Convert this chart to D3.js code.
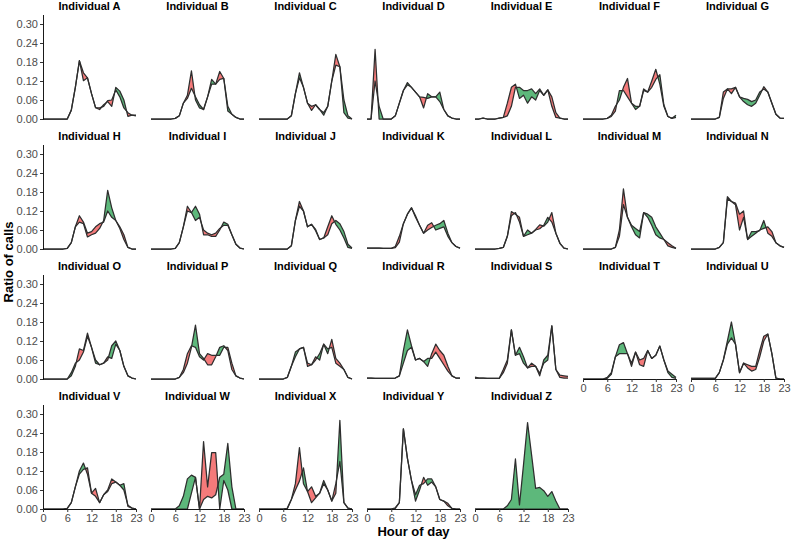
<!DOCTYPE html>
<html>
<head>
<meta charset="utf-8">
<script src="https://cdn.jsdelivr.net/npm/d3@7"></script>
<style>
body { margin: 0; background: #fff; }
text { font-family: "Liberation Sans", Arial, sans-serif; }
</style>
</head>
<body>
<svg id="chart" width="792" height="542"></svg>
<script>
var hours = [0,1,2,3,4,5,6,7,8,9,10,11,12,13,14,15,16,17,18,19,20,21,22,23];
var individuals = ["A","B","C","D","E","F","G","H","I","J","K","L","M","N","O","P","Q","R","S","T","U","V","W","X","Y","Z"];
var yTicks = [0, 0.06, 0.12, 0.18, 0.24, 0.30];
var xTicks = [0, 6, 12, 18, 23];

// first series (red where it is higher)
var seriesOne = [
  [0,0,0,0,0,0,0,0.028,0.1,0.184,0.146,0.13,0.08,0.036,0.035,0.04,0.058,0.06,0.092,0.07,0.035,0.02,0.012,0.01],
  [0,0,0,0,0,0,0.002,0.01,0.05,0.075,0.152,0.06,0.035,0.03,0.07,0.11,0.11,0.15,0.128,0.025,0.015,0.005,0,0],
  [0,0,0,0,0,0,0,0,0.01,0.08,0.13,0.1,0.05,0.04,0.045,0.03,0.012,0.04,0.12,0.204,0.165,0.02,0.003,0],
  [0,0,0.22,0,0,0,0,0.01,0.05,0.09,0.108,0.1,0.085,0.07,0.068,0.065,0.07,0.07,0.055,0.03,0.01,0.003,0,0],
  [0,0,0.003,0,0,0,0.003,0.005,0.05,0.1,0.11,0.065,0.075,0.05,0.07,0.06,0.09,0.075,0.092,0.07,0.02,0.003,0,0],
  [0,0,0,0,0,0,0.002,0.012,0.04,0.06,0.1,0.128,0.05,0.03,0.04,0.095,0.085,0.12,0.157,0.11,0.04,0.008,0.002,0.005],
  [0,0,0,0,0,0,0,0.005,0.085,0.095,0.095,0.1,0.07,0.055,0.045,0.04,0.05,0.075,0.102,0.085,0.05,0.015,0.003,0.002],
  [0,0,0,0,0,0,0.002,0.02,0.07,0.105,0.085,0.05,0.055,0.07,0.08,0.085,0.12,0.1,0.09,0.07,0.045,0.005,0,0],
  [0,0,0,0,0,0,0.002,0.02,0.07,0.135,0.115,0.09,0.1,0.06,0.05,0.045,0.05,0.065,0.075,0.075,0.045,0.015,0.003,0],
  [0,0,0,0,0,0,0,0,0.01,0.09,0.15,0.12,0.07,0.078,0.058,0.03,0.035,0.07,0.105,0.078,0.06,0.035,0.005,0.002],
  [0.003,0.003,0.003,0.003,0.002,0.002,0.002,0.008,0.04,0.08,0.11,0.13,0.105,0.075,0.05,0.075,0.083,0.06,0.065,0.07,0.04,0.02,0.008,0.003],
  [0,0,0,0,0,0,0.002,0.005,0.04,0.118,0.11,0.1,0.04,0.045,0.05,0.062,0.076,0.072,0.085,0.115,0.05,0.018,0.003,0],
  [0,0,0,0,0,0,0,0,0.005,0.06,0.19,0.1,0.07,0.045,0.035,0.115,0.1,0.075,0.045,0.035,0.03,0.02,0.01,0.002],
  [0,0,0,0,0,0,0,0.005,0.02,0.165,0.15,0.145,0.11,0.12,0.03,0.04,0.05,0.06,0.065,0.07,0.055,0.02,0.01,0.005],
  [0,0,0,0,0,0,0,0.01,0.04,0.095,0.09,0.145,0.1,0.05,0.045,0.05,0.07,0.065,0.11,0.09,0.04,0.01,0.003,0],
  [0,0,0,0,0,0,0,0.005,0.03,0.08,0.105,0.1,0.07,0.06,0.08,0.075,0.075,0.075,0.1,0.1,0.05,0.01,0.003,0],
  [0,0,0,0,0,0,0,0.005,0.04,0.07,0.095,0.1,0.05,0.045,0.07,0.06,0.11,0.08,0.125,0.065,0.05,0.03,0.005,0],
  [0.003,0.003,0.002,0.002,0.002,0.002,0.002,0.003,0.01,0.05,0.09,0.1,0.06,0.065,0.055,0.04,0.08,0.11,0.09,0.075,0.04,0.01,0.003,0.003],
  [0.006,0.003,0.003,0.002,0.002,0.002,0.002,0.03,0.06,0.155,0.075,0.08,0.05,0.035,0.05,0.04,0.018,0.05,0.06,0.168,0.03,0.012,0.01,0.008],
  [0,0,0,0,0,0,0.002,0.015,0.07,0.08,0.08,0.08,0.05,0.085,0.06,0.065,0.09,0.065,0.075,0.104,0.06,0.02,0.005,0.002],
  [0.002,0.002,0.002,0.002,0.002,0.002,0.002,0.02,0.06,0.11,0.13,0.11,0.02,0.05,0.045,0.04,0.04,0.09,0.135,0.142,0.08,0.003,0,0],
  [0,0,0,0,0,0,0.002,0.02,0.07,0.11,0.125,0.13,0.05,0.065,0.02,0.045,0.06,0.095,0.085,0.075,0.06,0.012,0.003,0],
  [0,0,0,0,0,0,0,0,0,0,0.05,0.1,0,0.213,0.07,0.178,0.178,0,0.09,0.06,0,0,0,0],
  [0,0,0,0,0,0,0,0.002,0.03,0.08,0.194,0.08,0.055,0.07,0.04,0.05,0.08,0.06,0.025,0.08,0.15,0.02,0.003,0],
  [0,0,0,0,0,0,0,0.004,0.02,0.253,0.16,0.09,0.025,0.06,0.1,0.075,0.085,0.07,0.03,0.025,0.018,0.002,0,0],
  [0,0,0,0,0,0,0,0,0,0,0,0,0,0,0,0,0,0,0,0,0,0,0,0]
];

// second series (green where it is higher)
var seriesTwo = [
  [0,0,0,0,0,0,0,0.028,0.1,0.184,0.121,0.13,0.08,0.036,0.03,0.045,0.055,0.04,0.1,0.088,0.06,0.008,0.012,0.012],
  [0,0,0,0,0,0,0.002,0.01,0.05,0.065,0.097,0.07,0.045,0.03,0.07,0.125,0.11,0.125,0.128,0.04,0.015,0.005,0,0],
  [0,0,0,0,0,0,0,0,0.01,0.08,0.146,0.1,0.05,0.027,0.045,0.03,0.02,0.04,0.12,0.17,0.165,0.06,0.01,0],
  [0,0,0.12,0.04,0,0,0,0.01,0.05,0.09,0.115,0.1,0.085,0.07,0.035,0.08,0.07,0.07,0.085,0.03,0.01,0.003,0,0],
  [0,0,0.003,0,0,0,0.003,0.005,0.01,0.04,0.1,0.1,0.09,0.09,0.095,0.08,0.095,0.075,0.092,0.04,0.005,0.003,0,0],
  [0,0,0,0,0,0,0.002,0.008,0.025,0.09,0.09,0.07,0.05,0.04,0.04,0.09,0.085,0.1,0.125,0.14,0.045,0.008,0.002,0.012],
  [0,0,0,0,0,0,0,0.005,0.065,0.095,0.08,0.1,0.07,0.065,0.062,0.055,0.06,0.085,0.095,0.085,0.05,0.015,0.003,0.002],
  [0,0,0,0,0,0,0.002,0.02,0.07,0.085,0.08,0.038,0.045,0.05,0.065,0.09,0.185,0.13,0.09,0.065,0.03,0.005,0,0],
  [0,0,0,0,0,0,0.002,0.02,0.07,0.12,0.115,0.135,0.11,0.045,0.045,0.04,0.04,0.06,0.085,0.078,0.045,0.015,0.003,0],
  [0,0,0,0,0,0,0,0,0.01,0.09,0.135,0.12,0.07,0.078,0.062,0.03,0.035,0.045,0.08,0.09,0.08,0.055,0.015,0.003],
  [0.003,0.003,0.003,0.003,0.002,0.002,0.002,0.004,0.022,0.08,0.11,0.13,0.1,0.075,0.05,0.06,0.068,0.075,0.08,0.09,0.05,0.02,0.008,0.003],
  [0,0,0,0,0,0,0.002,0.005,0.04,0.105,0.115,0.085,0.04,0.06,0.05,0.06,0.064,0.075,0.1,0.085,0.05,0.018,0.003,0],
  [0,0,0,0,0,0,0,0,0.005,0.04,0.14,0.1,0.075,0.065,0.055,0.115,0.11,0.1,0.07,0.05,0.03,0.01,0.005,0.002],
  [0,0,0,0,0,0,0,0.005,0.02,0.158,0.15,0.14,0.06,0.1,0.03,0.055,0.055,0.058,0.09,0.05,0.04,0.02,0.01,0.005],
  [0,0,0,0,0,0,0,0.02,0.05,0.06,0.085,0.135,0.1,0.06,0.045,0.05,0.06,0.105,0.12,0.09,0.04,0.01,0.003,0],
  [0,0,0,0,0,0,0,0.005,0.02,0.05,0.1,0.17,0.08,0.065,0.045,0.045,0.07,0.1,0.105,0.09,0.03,0.01,0.003,0],
  [0,0,0,0,0,0,0,0.005,0.04,0.085,0.095,0.1,0.04,0.045,0.06,0.08,0.11,0.095,0.1,0.05,0.04,0.03,0.005,0],
  [0.003,0.003,0.002,0.002,0.002,0.002,0.002,0.003,0.01,0.09,0.155,0.105,0.06,0.065,0.055,0.065,0.065,0.085,0.065,0.045,0.025,0.01,0.003,0.003],
  [0.002,0.003,0.003,0.002,0.002,0.002,0.002,0.02,0.05,0.155,0.075,0.1,0.07,0.035,0.04,0.04,0.01,0.06,0.075,0.168,0.03,0.005,0.003,0.003],
  [0,0,0,0,0,0,0.005,0.02,0.07,0.108,0.115,0.08,0.04,0.085,0.045,0.04,0.09,0.065,0.075,0.104,0.06,0.025,0.015,0.005],
  [0.002,0.002,0.002,0.002,0.002,0.002,0.002,0.02,0.06,0.12,0.18,0.11,0.02,0.05,0.035,0.025,0.03,0.07,0.12,0.142,0.08,0.003,0,0],
  [0,0,0,0,0,0,0.002,0.02,0.07,0.12,0.145,0.11,0.05,0.04,0.02,0.045,0.055,0.08,0.085,0.075,0.08,0.008,0.003,0],
  [0,0,0,0,0,0,0,0.01,0.04,0.095,0.107,0.1,0,0.03,0.04,0.035,0.045,0.1,0.11,0.207,0.07,0,0,0],
  [0,0,0,0,0,0,0,0.002,0.03,0.06,0.088,0.13,0.055,0.02,0.035,0.05,0.09,0.06,0.025,0.05,0.28,0.02,0.003,0],
  [0,0,0,0,0,0,0,0.002,0.02,0.253,0.16,0.09,0.045,0.075,0.08,0.095,0.095,0.07,0.03,0.025,0.01,0.002,0,0],
  [0,0,0,0,0,0,0,0,0.01,0.03,0.158,0.013,0.14,0.273,0.17,0.065,0.068,0.058,0.04,0.055,0.025,0,0,0]
];

var svg = d3.select("#chart");
var ncol = 7;
var panelW = 93, panelH = 104.5;
var colStep = 108, rowStep = 130;
var left0 = 43, bottom0 = 119;
var redFill = "#F47A7A", greenFill = "#5DB87B", lineColor = "#2E2E2E";

// add the points where the two lines cross so the fill changes colour there
function withCrossings(a, b) {
  var pts = [];
  for (var i = 0; i < hours.length; i++) {
    pts.push({h: hours[i], a: a[i], b: b[i]});
    if (i < hours.length - 1) {
      var d0 = a[i] - b[i], d1 = a[i+1] - b[i+1];
      if (d0 * d1 < 0) {
        var t = d0 / (d0 - d1);
        var h = hours[i] + t * (hours[i+1] - hours[i]);
        var v = a[i] + t * (a[i+1] - a[i]);
        pts.push({h: h, a: v, b: v});
      }
    }
  }
  return pts;
}

individuals.forEach(function(name, i) {
  var row = Math.floor(i / ncol), col = i % ncol;
  var left = left0 + col * colStep;
  var bottom = bottom0 + row * rowStep;

  var x = d3.scaleLinear().domain([0, 23]).range([left, left + panelW]);
  var y = d3.scaleLinear().domain([0, 0.33]).range([bottom, bottom - panelH]);

  var g = svg.append("g").attr("class", "panel");
  var a = seriesOne[i], b = seriesTwo[i];
  var pts = withCrossings(a, b);

  var redArea = d3.area()
    .x(function(d){ return x(d.h); })
    .y0(function(d){ return y(d.b); })
    .y1(function(d){ return y(Math.max(d.a, d.b)); });
  var greenArea = d3.area()
    .x(function(d){ return x(d.h); })
    .y0(function(d){ return y(d.a); })
    .y1(function(d){ return y(Math.max(d.a, d.b)); });

  g.append("path").attr("d", redArea(pts)).attr("fill", redFill);
  g.append("path").attr("d", greenArea(pts)).attr("fill", greenFill);

  var line = d3.line()
    .x(function(d, k){ return x(hours[k]); })
    .y(function(d){ return y(d); });
  [a, b].forEach(function(s) {
    g.append("path")
      .attr("d", line(s))
      .attr("fill", "none")
      .attr("stroke", lineColor)
      .attr("stroke-width", 1.25)
      .attr("stroke-linejoin", "round");
  });

  g.append("text")
    .attr("x", left + panelW / 2)
    .attr("y", bottom - 109.5)
    .attr("text-anchor", "middle")
    .attr("font-size", 11)
    .attr("font-weight", "bold")
    .attr("fill", "#000")
    .text("Individual " + name);

  if (col === 0) {
    var ya = g.append("g")
      .attr("transform", "translate(" + left + ",0)")
      .call(d3.axisLeft(y).tickValues(yTicks).tickFormat(d3.format(".2f")).tickSize(3).tickSizeOuter(0).tickPadding(2));
    ya.selectAll("text").attr("font-size", 11).attr("fill", "#4D4D4D").style("font-family", "Liberation Sans, Arial, sans-serif");
    ya.selectAll("line").attr("stroke", "#333");
    ya.select(".domain").attr("stroke", "#000").attr("stroke-width", 0.9);
  }
  if (i + ncol >= individuals.length) {
    var xa = g.append("g")
      .attr("transform", "translate(0," + bottom + ")")
      .call(d3.axisBottom(x).tickValues(xTicks).tickSize(3).tickSizeOuter(0).tickPadding(2));
    xa.selectAll("text").attr("font-size", 11).attr("fill", "#4D4D4D").style("font-family", "Liberation Sans, Arial, sans-serif");
    xa.selectAll("line").attr("stroke", "#333");
    xa.select(".domain").attr("stroke", "#000").attr("stroke-width", 0.9);
  }
});

svg.append("text")
  .attr("transform", "translate(13,262) rotate(-90)")
  .attr("text-anchor", "middle")
  .attr("font-size", 13)
  .attr("font-weight", "bold")
  .text("Ratio of calls");

svg.append("text")
  .attr("x", 413.5)
  .attr("y", 536)
  .attr("text-anchor", "middle")
  .attr("font-size", 13)
  .attr("font-weight", "bold")
  .text("Hour of day");
</script>
</body>
</html>
